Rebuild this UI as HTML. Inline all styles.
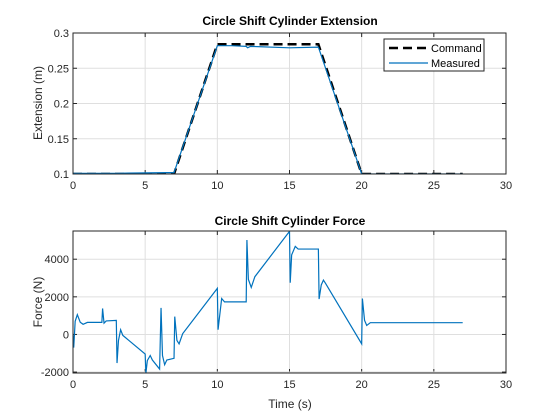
<!DOCTYPE html>
<html><head><meta charset="utf-8"><style>
body{margin:0;background:#fff;}
svg{display:block;font-family:"Liberation Sans",Arial,sans-serif;}
</style></head><body>
<svg id="c" width="560" height="420" viewBox="0 0 560 420"></svg>
<script>
const NS="http://www.w3.org/2000/svg";
const svg=document.getElementById('c');
// ---- data ----
const xTicks=[0,5,10,15,20,25,30];
const extYTicks=[0.1,0.15,0.2,0.25,0.3];
const extYLabels=["0.1","0.15","0.2","0.25","0.3"];
const forceYTicks=[-2000,0,2000,4000];
const forceYLabels=["-2000","0","2000","4000"];
const cmdT=[0,7,10,17,20,27];
const cmdV=[0.1,0.1,0.284,0.284,0.1,0.1];
const measT=[0,3,6.5,7,10,11,12,12.1,12.3,15,17,20,27];
const measV=[0.101,0.101,0.102,0.102,0.282,0.282,0.281,0.279,0.281,0.279,0.28,0.1,0.1];
const forceT=[0,0.05,0.15,0.3,0.5,0.7,1,2,2.05,2.15,2.3,3,3.05,3.15,3.3,3.45,5,5.05,5.15,5.35,5.5,6,6.1,6.2,6.35,6.5,7,7.05,7.2,7.35,7.6,10,10.05,10.3,10.5,12,12.05,12.15,12.35,12.6,15,15.05,15.15,15.4,15.6,17,17.05,17.2,17.35,17.5,20,20.05,20.2,20.35,20.6,27];
const forceV=[0,-700,700,1050,650,540,640,640,1380,600,720,750,-1520,-320,250,-50,-1040,-2070,-1390,-1120,-1360,-1840,1410,-1120,-1610,-1360,-1270,950,-320,-500,40,2450,250,1910,1730,1730,5020,2930,2500,3070,5480,2750,4230,4680,4540,4540,1880,2630,2890,2710,-500,1910,750,480,625,625];
// ---- helpers ----
function el(tag,attrs,parent){const e=document.createElementNS(NS,tag);for(const k in attrs)e.setAttribute(k,attrs[k]);(parent||svg).appendChild(e);return e;}
function makeAxes(L,T,R,B,xmin,xmax,ymin,ymax){return{L,T,R,B,x:v=>L+(v-xmin)/(xmax-xmin)*(R-L),y:v=>B-(v-ymin)/(ymax-ymin)*(B-T)};}
function drawFrame(a,yt,yl,name){
  el('rect',{x:a.L,y:a.T,width:a.R-a.L,height:a.B-a.T,fill:'#fff'});
  xTicks.forEach(t=>{const x=a.x(t);
    const g=el('line',{x1:x,x2:x,y1:a.T,y2:a.B,stroke:'#dfdfdf','stroke-width':1});
    
    el('line',{x1:x,x2:x,y1:a.B,y2:a.B-4,stroke:'#262626'});el('line',{x1:x,x2:x,y1:a.T,y2:a.T+4,stroke:'#262626'});
    const tx=el('text',{x:x,y:a.B+15,'text-anchor':'middle','font-size':11,fill:'#262626'});tx.textContent=t;
    });
  yt.forEach((t,i)=>{const y=a.y(t);
    const g=el('line',{x1:a.L,x2:a.R,y1:y,y2:y,stroke:'#dfdfdf','stroke-width':1});
    
    el('line',{x1:a.L,x2:a.L+4,y1:y,y2:y,stroke:'#262626'});el('line',{x1:a.R,x2:a.R-4,y1:y,y2:y,stroke:'#262626'});
    const tx=el('text',{x:a.L-4,y:y+4,'text-anchor':'end','font-size':11,fill:'#262626'});tx.textContent=yl[i];
    });
}
function border(a,name){const r=el('rect',{x:a.L,y:a.T,width:a.R-a.L,height:a.B-a.T,fill:'none',stroke:'#262626','stroke-width':1});
  }
function line(a,T,V,attrs,name){const d=T.map((t,i)=>(i?'L':'M')+a.x(t).toFixed(2)+','+a.y(V[i]).toFixed(2)).join('');
  const p=el('path',Object.assign({d:d,fill:'none'},attrs));return p;}
function text(x,y,s,attrs,name){const t=el('text',Object.assign({x:x,y:y,fill:'#000'},attrs));t.textContent=s;return t;}
// ---- top ----
const a1=makeAxes(73,33,506,174,0,30,0.1,0.3);
drawFrame(a1,extYTicks,extYLabels,'extension');
const clip1=el('clipPath',{id:'cp1'});el('rect',{x:a1.L,y:a1.T-2,width:a1.R-a1.L,height:a1.B-a1.T+2},clip1);
const g1=el('g',{'clip-path':'url(#cp1)'});
line(a1,cmdT,cmdV,{stroke:'#000','stroke-width':2.5,'stroke-dasharray':'9,5'},'command-line').remove();
g1.appendChild(line(a1,cmdT,cmdV,{stroke:'#000','stroke-width':2.5,'stroke-dasharray':'9,5'},'command-line'));
g1.appendChild(line(a1,measT,measV,{stroke:'#0072bd','stroke-width':1.2},'measured-line'));
border(a1,'extension');
text(290,25,'Circle Shift Cylinder Extension',{'text-anchor':'middle','font-size':12,'font-weight':'bold'},'extension-title');
text(42,103,'Extension (m)',{'text-anchor':'middle','font-size':12,fill:'#262626',transform:'rotate(-90 42 103)'},'extension-y-axis-title');
// legend
const lg=el('g',{});
el('rect',{x:384,y:39,width:100,height:32,fill:'#fff',stroke:'#262626','stroke-width':1},lg);
const l1=el('line',{x1:389,x2:428,y1:48,y2:48,stroke:'#000','stroke-width':2.5,'stroke-dasharray':'9,5'},lg);

const l2=el('line',{x1:389,x2:428,y1:63,y2:63,stroke:'#0072bd','stroke-width':1.2},lg);

lg.appendChild(text(431,52,'Command',{'font-size':11,fill:'#000'},'legend-label-command'));
lg.appendChild(text(431,67,'Measured',{'font-size':11,fill:'#000'},'legend-label-measured'));
// ---- bottom ----
const a2=makeAxes(73,231,506,373,0,30,-2050,5500);
drawFrame(a2,forceYTicks,forceYLabels,'force');
const clip2=el('clipPath',{id:'cp2'});el('rect',{x:a2.L,y:a2.T,width:a2.R-a2.L,height:a2.B-a2.T},clip2);
const g2=el('g',{'clip-path':'url(#cp2)'});
g2.appendChild(line(a2,forceT,forceV,{stroke:'#0072bd','stroke-width':1.2},'force-line'));
border(a2,'force');
text(290,225,'Circle Shift Cylinder Force',{'text-anchor':'middle','font-size':12,'font-weight':'bold'},'force-title');
text(42,302,'Force (N)',{'text-anchor':'middle','font-size':12,fill:'#262626',transform:'rotate(-90 42 302)'},'force-y-axis-title');
text(290,408,'Time (s)',{'text-anchor':'middle','font-size':12,fill:'#262626'},'x-axis-title');
</script>
</body></html>
